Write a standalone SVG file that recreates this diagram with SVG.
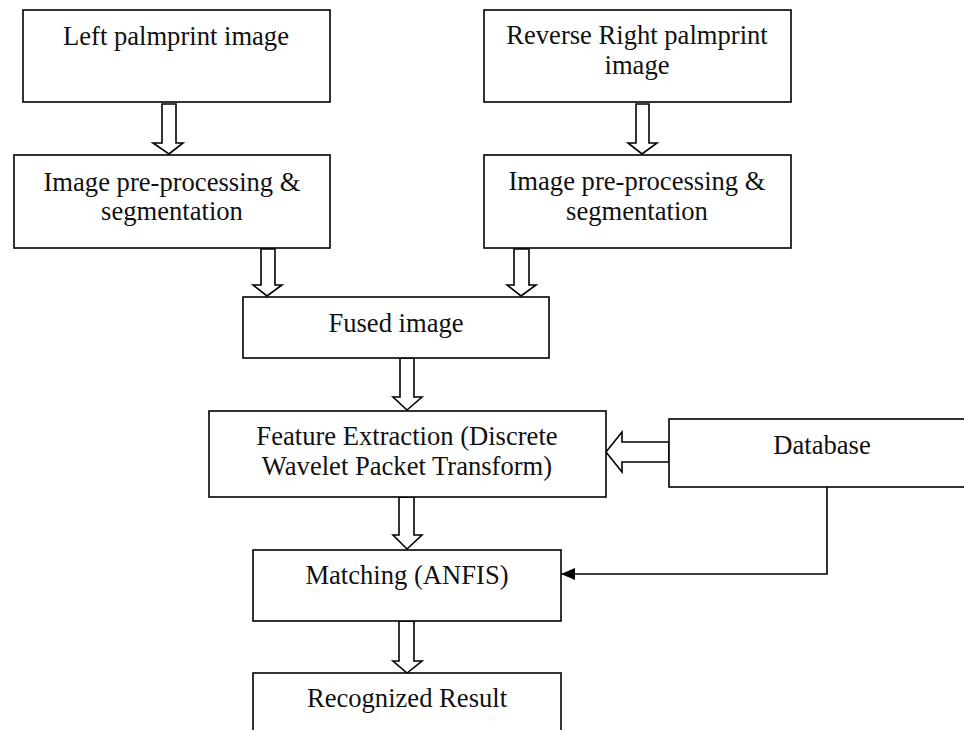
<svg xmlns="http://www.w3.org/2000/svg" width="964" height="730" viewBox="0 0 964 730">
<style>
.box{fill:#fff;stroke:#000;stroke-width:1.6}
.t{font-family:"Liberation Serif","Times New Roman",serif;font-size:26.6px;fill:#111;text-anchor:middle}
.ba{fill:#fff;stroke:#000;stroke-width:1.6;stroke-linejoin:miter}
.ln{fill:none;stroke:#000;stroke-width:1.6}
</style>
<defs>
<marker id="fa" viewBox="0 0 14 12" refX="14" refY="6" markerWidth="14" markerHeight="12" markerUnits="userSpaceOnUse" orient="auto">
<path d="M0,0 L14,6 L0,12 Z" fill="#000"/>
</marker>
</defs>
<rect width="964" height="730" fill="#fff"/>
<g id="connectors">
<path class="ba" d="M162,104 H176 V143 H183 L169,154 L153,143 H162 Z"/>
<path class="ba" d="M636,104 H649 V143 H657 L642,154 L628,143 H636 Z"/>
<path class="ba" d="M261,249 H275 V285 H282 L267,296 L253,285 H261 Z"/>
<path class="ba" d="M514,249 H529 V285 H536 L521,296 L507,285 H514 Z"/>
<path class="ba" d="M400,358 H414 V397 H422 L407,410 L393,397 H400 Z"/>
<path class="ba" d="M669,442 H622 V432 L606,452 L622,472 V462 H669 Z"/>
<path class="ba" d="M399,497 H414 V535 H422 L407,549 L393,535 H399 Z"/>
<path class="ba" d="M399,621 H414 V661 H422 L407,673 L393,661 H399 Z"/>
<path class="ln" d="M827,487 V574 H561" marker-end="url(#fa)"/>
</g>
<g id="left-palm">
<rect class="box" x="23" y="10" width="307" height="92"/>
<text class="t" x="176" y="45">Left palmprint image</text>
</g>
<g id="right-palm">
<rect class="box" x="484" y="10" width="307" height="92"/>
<text class="t" x="637" y="44">Reverse Right palmprint</text>
<text class="t" x="637" y="74">image</text>
</g>
<g id="left-preproc">
<rect class="box" x="14" y="155" width="316" height="93"/>
<text class="t" x="172" y="191">Image pre-processing &amp;</text>
<text class="t" x="172" y="220">segmentation</text>
</g>
<g id="right-preproc">
<rect class="box" x="484" y="155" width="307" height="93"/>
<text class="t" x="637" y="190">Image pre-processing &amp;</text>
<text class="t" x="637" y="220">segmentation</text>
</g>
<g id="fused">
<rect class="box" x="243" y="297" width="306" height="61"/>
<text class="t" x="396" y="332">Fused image</text>
</g>
<g id="feature">
<rect class="box" x="209" y="411" width="397" height="86"/>
<text class="t" x="407" y="445">Feature Extraction (Discrete</text>
<text class="t" x="407" y="475">Wavelet Packet Transform)</text>
</g>
<g id="database">
<rect class="box" x="669" y="419" width="300" height="68"/>
<text class="t" x="822" y="454">Database</text>
</g>
<g id="matching">
<rect class="box" x="253" y="550" width="308" height="71"/>
<text class="t" x="407" y="584">Matching (ANFIS)</text>
</g>
<g id="result">
<rect class="box" x="253" y="673" width="308" height="70"/>
<text class="t" x="407" y="707">Recognized Result</text>
</g>
</svg>
